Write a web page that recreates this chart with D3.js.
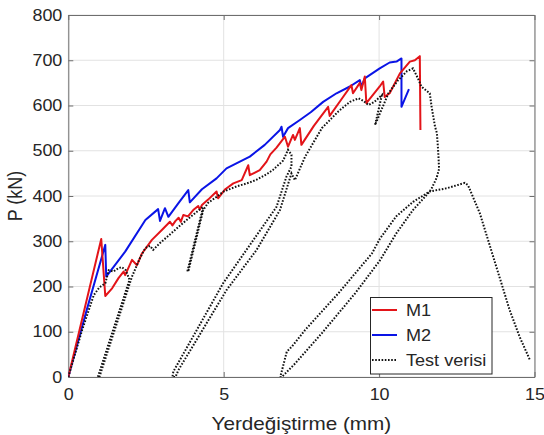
<!DOCTYPE html>
<html>
<head>
<meta charset="utf-8">
<script src="https://cdn.jsdelivr.net/npm/d3@7"></script>
<style>
  body { margin: 0; background: #fff; }
  text { font-family: "Liberation Sans", Arial, sans-serif; fill: #262626; }
</style>
</head>
<body>
<div id="container"></div>
<script>
/** DATA */
const xTicks = [0, 5, 10, 15];
const yTicks = [0, 100, 200, 300, 400, 500, 600, 700, 800];

const m1X = [0, 1.06, 1.19, 1.41, 1.62, 1.78, 1.83, 2.05, 2.21, 2.37, 2.69, 3.01, 3.27, 3.35, 3.45, 3.55, 3.62, 3.70, 3.85, 4.02, 4.18, 4.23, 4.30, 4.50, 4.77, 4.82, 5.05, 5.31, 5.58, 5.79, 5.84, 6.16, 6.38, 6.50, 6.70, 6.97, 7.07, 7.23, 7.29, 7.45, 7.50, 7.90, 8.36, 8.41, 8.80, 9.11, 9.16, 9.38, 9.43, 9.54, 9.59, 10.02, 10.13, 10.18, 10.34, 10.67, 10.99, 11.15, 11.31, 11.33];
const m1Y = [0, 305, 179, 196, 219, 233, 225, 259, 247, 273, 303, 325, 343, 335, 345, 352, 343, 358, 355, 369, 378, 370, 380, 392, 410, 395, 415, 428, 435, 468, 446, 457, 476, 492, 507, 531, 509, 535, 524, 550, 513, 555, 597, 577, 615, 645, 627, 650, 634, 664, 605, 642, 653, 619, 627, 671, 697, 700, 709, 546];

const m2X = [0, 0.6, 1.19, 1.22, 1.83, 2.48, 2.89, 2.95, 3.11, 3.22, 3.55, 3.86, 3.91, 4.30, 4.77, 5.09, 5.52, 5.84, 6.32, 6.81, 6.86, 6.91, 7.07, 7.45, 7.80, 8.20, 8.63, 9.06, 9.38, 9.43, 9.54, 10.02, 10.34, 10.56, 10.72, 10.72, 10.96];
const m2Y = [0, 150, 292, 222, 277, 347, 371, 345, 373, 354, 385, 413, 386, 415, 439, 461, 476, 487, 513, 546, 553, 531, 550, 568, 585, 608, 627, 642, 656, 642, 660, 682, 695, 697, 704, 597, 636];

const testX = [0, 0.45, 0.82, 1.0, 1.19, 1.30, 1.45, 1.60, 1.72, 1.85, 1.97, 0.95,
  1.0, 1.97, 2.05, 2.30, 2.48, 2.63, 2.73, 2.95, 3.27, 3.60, 3.90, 4.23, 4.34, 3.83,
  3.87, 4.34, 4.50, 4.77, 5.00, 5.41, 5.84, 6.06, 6.38, 6.59, 6.91, 7.07, 7.18, 7.18,
  7.02, 6.70, 4.98, 3.38, 3.35, 3.45, 3.54, 5.09, 6.06, 6.81, 7.18, 7.29, 7.62, 8.16,
  8.69, 9.06, 9.34, 9.50, 9.66, 9.85, 10.09, 9.87, 10.30, 10.60, 10.90, 11.09, 11.25,
  11.36, 11.63, 11.69, 11.80, 11.86, 11.90, 11.93, 11.85, 11.70, 11.63, 11.09, 10.56,
  10.02, 9.23, 8.16, 7.30, 6.87, 6.82, 7.03, 7.19, 7.62, 8.69, 9.77, 10.02, 10.55,
  11.09, 11.63, 12.17, 12.76, 12.86, 13.24, 13.77, 14.20, 14.52, 14.85];
const testY = [0, 105, 181, 198, 207, 236, 233, 240, 243, 236, 215, 0,
  0, 205, 222, 262, 285, 290, 281, 296, 315, 335, 352, 370, 376, 233,
  236, 369, 385, 398, 410, 421, 430, 436, 448, 458, 478, 502, 491, 465,
  443, 376, 207, 12, 0, 0, 15, 192, 281, 369, 450, 435, 487, 550,
  587, 608, 616, 610, 601, 608, 623, 557, 627, 655, 676, 682, 660,
  642, 627, 597, 553, 539, 500, 460, 440, 418, 410, 369, 318,
  257, 185, 97, 30, 0, 0, 56, 67, 104, 185, 273, 305, 355,
  387, 410, 417, 429, 424, 362, 244, 148, 89, 38];

const seriesNames = ["M1", "M2", "Test verisi"];

/** CONSTANTS */
const width = 544, height = 435;
const plot = { left: 68.3, right: 534.5, top: 15, bottom: 377 };
const stretch = 1.12; // reference text is a bit wider than normal

const svg = d3.select("#container").append("svg")
  .attr("width", width)
  .attr("height", height);

const x = d3.scaleLinear().domain([0, 15]).range([plot.left, plot.right]);
const y = d3.scaleLinear().domain([0, 800]).range([plot.bottom, plot.top]);

// grid
svg.append("g").selectAll("line.gx")
  .data(xTicks)
  .join("line")
  .attr("x1", d => x(d)).attr("x2", d => x(d))
  .attr("y1", plot.top).attr("y2", plot.bottom)
  .attr("stroke", "#e2e2e2");
svg.append("g").selectAll("line.gy")
  .data(yTicks)
  .join("line")
  .attr("y1", d => y(d)).attr("y2", d => y(d))
  .attr("x1", plot.left).attr("x2", plot.right)
  .attr("stroke", "#e2e2e2");

// axes (ticks point inward, box on)
function styleAxis(g) {
  g.select(".domain").attr("stroke", "#6e6e6e");
  g.selectAll(".tick line").attr("stroke", "#6e6e6e");
  g.selectAll("text").style("font-size", "16px").attr("fill", "#262626");
}

const gx = svg.append("g")
  .attr("transform", `translate(0,${plot.bottom})`)
  .call(d3.axisBottom(x).tickValues(xTicks).tickSizeInner(-5).tickSizeOuter(0).tickPadding(12))
  .call(styleAxis);
gx.selectAll(".tick text").attr("transform", `scale(${stretch},1)`);

const gy = svg.append("g")
  .attr("transform", `translate(${plot.left},0)`)
  .call(d3.axisLeft(y).tickValues(yTicks).tickSizeInner(-5).tickSizeOuter(0).tickPadding(6))
  .call(styleAxis);
gy.selectAll(".tick text")
  .attr("transform", `translate(-6,0) scale(${stretch},1) translate(6,0)`);

svg.append("g")
  .attr("transform", `translate(0,${plot.top})`)
  .call(d3.axisTop(x).tickValues(xTicks).tickSizeInner(-5).tickSizeOuter(0).tickFormat(""))
  .call(styleAxis);
svg.append("g")
  .attr("transform", `translate(${plot.right},0)`)
  .call(d3.axisRight(y).tickValues(yTicks).tickSizeInner(-5).tickSizeOuter(0).tickFormat(""))
  .call(styleAxis);

// lines
const line = d3.line().x(d => x(d[0])).y(d => y(d[1]));
const m2Data = d3.zip(m2X, m2Y);
const m1Data = d3.zip(m1X, m1Y);
const testData = d3.zip(testX, testY);

svg.append("clipPath").attr("id", "clip")
  .append("rect")
  .attr("x", plot.left).attr("y", plot.top)
  .attr("width", plot.right - plot.left).attr("height", plot.bottom - plot.top);

const lines = svg.append("g").attr("clip-path", "url(#clip)");
lines.append("path").datum(m2Data)
  .attr("d", line).attr("fill", "none")
  .attr("stroke", "#0a14e6").attr("stroke-width", 2).attr("stroke-linejoin", "round");
lines.append("path").datum(m1Data)
  .attr("d", line).attr("fill", "none")
  .attr("stroke", "#e31419").attr("stroke-width", 2).attr("stroke-linejoin", "round");
lines.append("path").datum(testData)
  .attr("d", line).attr("fill", "none")
  .attr("stroke", "#111").attr("stroke-width", 2)
  .attr("stroke-dasharray", "1.6,1.6");

// axis labels
svg.append("text")
  .attr("transform", `translate(${(plot.left + plot.right) / 2},429.5) scale(1.15,1)`)
  .attr("text-anchor", "middle")
  .style("font-size", "18px")
  .text("Yerdeğiştirme (mm)");

svg.append("text")
  .attr("transform", `translate(22,${(plot.top + plot.bottom) / 2}) rotate(-90) scale(1,1.12)`)
  .attr("text-anchor", "middle")
  .style("font-size", "18px")
  .text("P (kN)");

// legend
const legend = svg.append("g");
legend.append("rect")
  .attr("x", 370.5).attr("y", 297.5)
  .attr("width", 121.5).attr("height", 76.5)
  .attr("fill", "#fff").attr("stroke", "#262626");

const legendStyle = [
  { color: "#e31419", dash: null },
  { color: "#0a14e6", dash: null },
  { color: "#111", dash: "1.6,1.6" }
];
const rows = legend.selectAll("g.row")
  .data(seriesNames)
  .join("g")
  .attr("class", "row")
  .attr("transform", (d, i) => `translate(0,${310 + i * 25})`);
rows.append("line")
  .attr("x1", 372).attr("x2", 397)
  .attr("stroke", (d, i) => legendStyle[i].color)
  .attr("stroke-width", 2)
  .attr("stroke-dasharray", (d, i) => legendStyle[i].dash);
rows.append("text")
  .attr("transform", `translate(406,6) scale(1.13,1)`)
  .style("font-size", "16px")
  .text(d => d);
</script>
</body>
</html>
